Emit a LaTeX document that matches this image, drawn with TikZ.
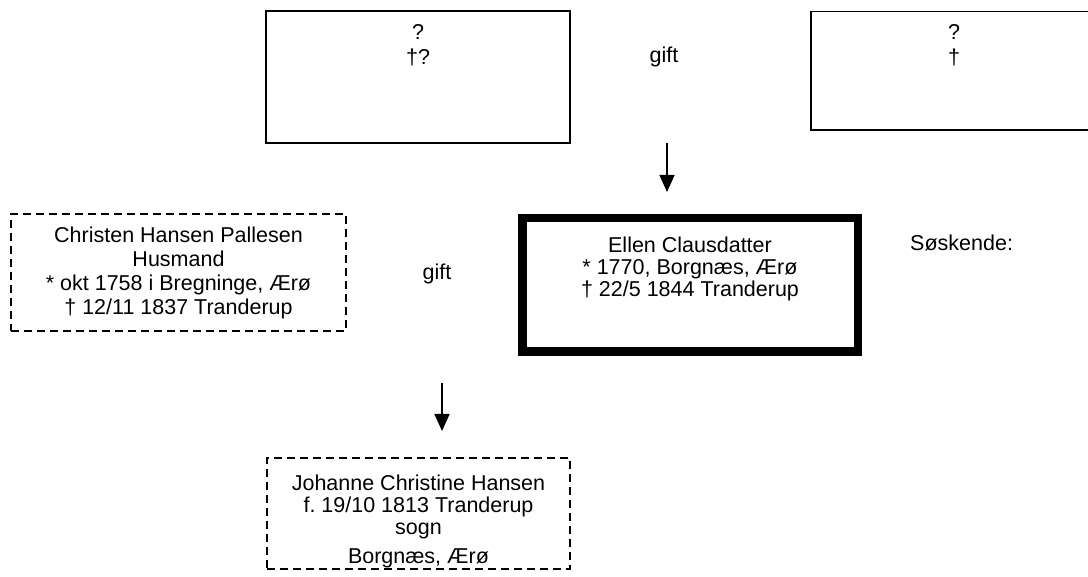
\documentclass[tikz,border=0pt]{standalone}
\usepackage{fontspec}
\setmainfont{Liberation Sans}
\usetikzlibrary{arrows.meta}
\frenchspacing
\begin{document}
\begin{tikzpicture}[x=1pt,y=-1pt,
  plainbox/.style={draw, line width=1.6pt, inner sep=0pt, outer sep=0pt},
  dashbox/.style={draw, line width=1.6pt, dash pattern=on 8pt off 5pt, inner sep=0pt, outer sep=0pt},
  thickbox/.style={draw, line width=8.5pt, inner sep=0pt, outer sep=0pt},
  txt/.style={inner sep=0pt, align=center, font=\fontsize{21.5}{22}\selectfont},
  arr/.style={line width=1.5pt, -{Triangle[width=15pt,length=17pt]}}]
\useasboundingbox (0,0) rectangle (1088,577);
\clip (0,0) rectangle (1088,577);
% boxes
\node[plainbox, minimum width=304pt, minimum height=132pt] (tl) at (418,77) {};
\node[plainbox, minimum width=286pt, minimum height=118.5pt] (tr) at (954,70.75) {};
\node[dashbox, minimum width=335pt, minimum height=117pt] (lb) at (178.5,272.5) {};
\node[thickbox, minimum width=335.5pt, minimum height=133.5pt] (cb) at (690,285) {};
\node[dashbox, minimum width=303pt, minimum height=111pt] (bb) at (418.5,513.5) {};
% texts (anchor base = baseline of the last line)
\node[txt, anchor=base, font=\fontsize{21.5}{25}\selectfont] (tltext) at (418,65) {?\\†?};
\node[txt, anchor=base, font=\fontsize{21.5}{25}\selectfont] (trtext) at (954,65) {?\\†};
\node[txt, anchor=base] (gift1) at (664,63) {gift};
\node[txt, anchor=base, font=\fontsize{21.5}{24}\selectfont] (lbtext) at (178.5,315) {Christen Hansen Pallesen\\Husmand\\* okt 1758 i Bregninge, Ærø\\† 12/11 1837 Tranderup};
\node[txt, anchor=base] (gift2) at (437,280) {gift};
\node[txt, anchor=base] (cbtext) at (690,297) {Ellen Clausdatter\\* 1770, Borgnæs, Ærø\\† 22/5 1844 Tranderup};
\node[txt, anchor=base west] (sosk) at (910,251) {Søskende:};
\node[txt, anchor=base] (bbtext) at (418.5,563) {Johanne Christine Hansen\\f. 19/10 1813 Tranderup\\sogn\\[7pt]Borgnæs, Ærø};
% arrows
\coordinate (a1s) at (667,143);
\coordinate (a1e) at (667,192);
\coordinate (a2s) at (442,383);
\coordinate (a2e) at (442,431);
\draw[arr] (a1s) -- (a1e);
\draw[arr] (a2s) -- (a2e);
\end{tikzpicture}
\end{document}
